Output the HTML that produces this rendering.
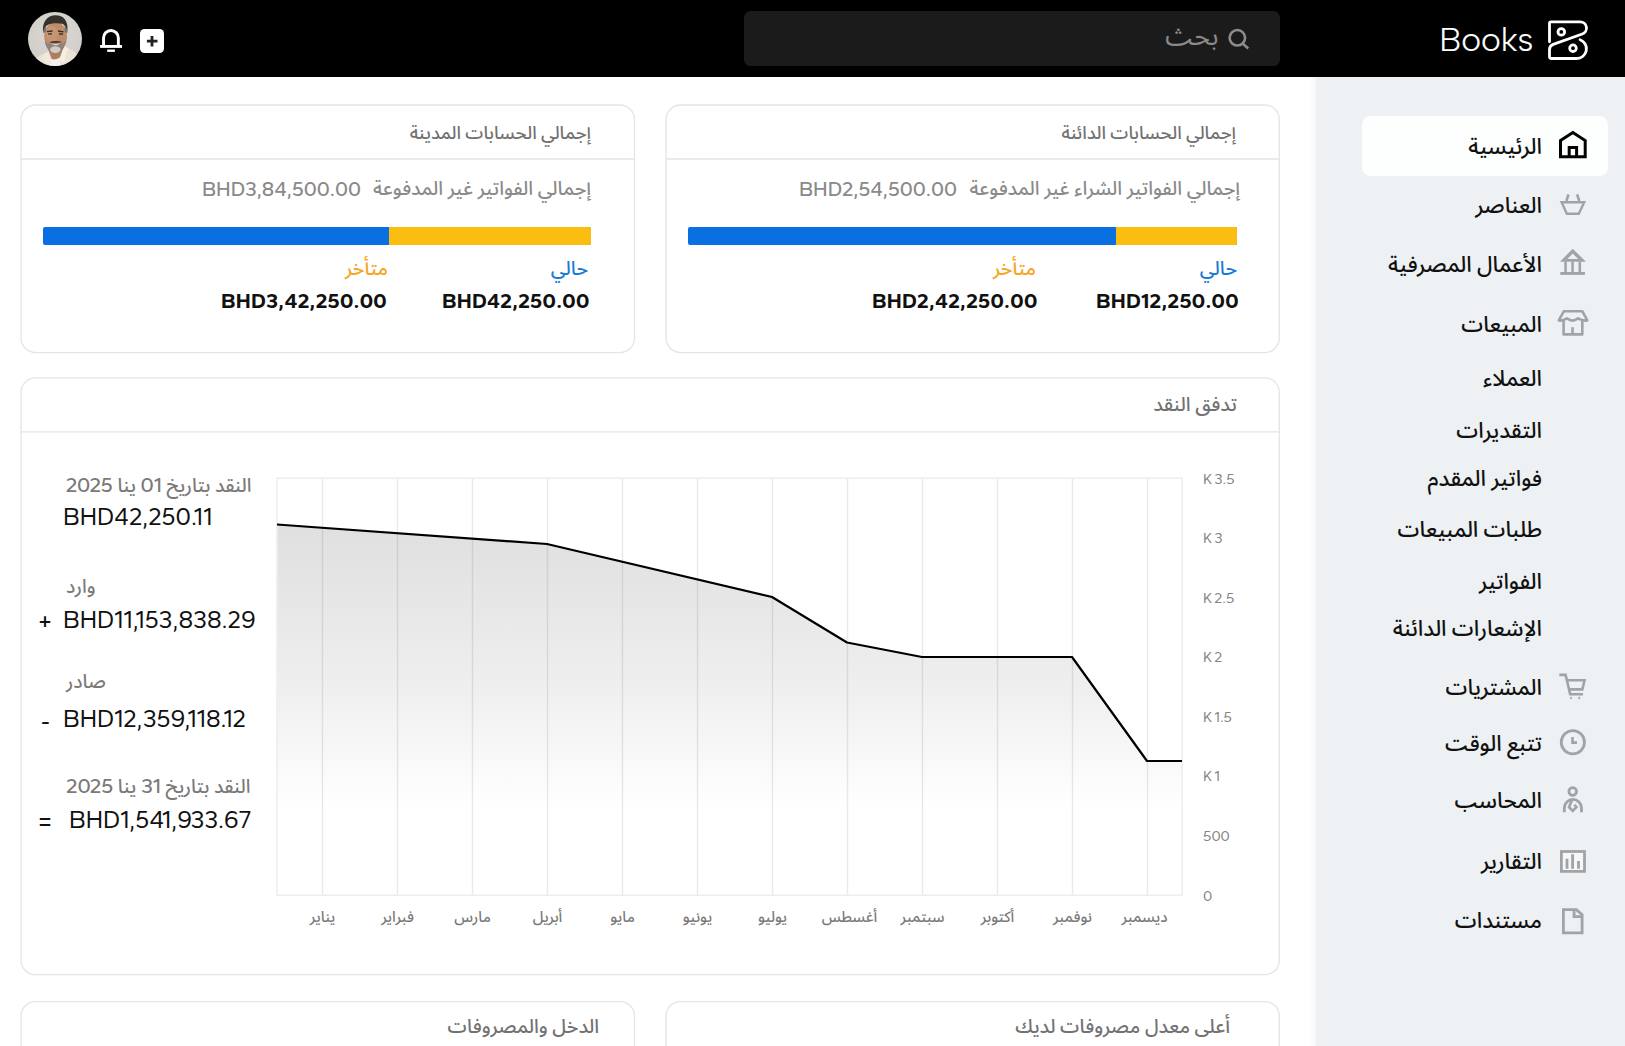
<!DOCTYPE html>
<html lang="ar" dir="rtl">
<head>
<meta charset="utf-8">
<title>Books</title>
<style>
*{box-sizing:border-box;margin:0;padding:0}
html,body{width:1625px;height:1046px;overflow:hidden;background:#fff}
body{font-family:"Gantari","Liberation Sans","Noto Sans Arabic","DejaVu Sans",sans-serif;font-weight:400;color:#111;position:relative;direction:rtl}
.abs{position:absolute;white-space:nowrap;line-height:1}
#top{position:absolute;left:0;top:0;width:1625px;height:77px;background:#000}
#search{position:absolute;left:743.8px;top:11.4px;width:536.3px;height:54.5px;background:#1b1b1b;border-radius:6.5px}
#side{position:absolute;left:1316px;top:77px;width:309px;height:969px;background:#eef1f4}
#active{position:absolute;left:1361.7px;top:116px;width:246.3px;height:60px;background:#fdfefe;border-radius:8.5px}
.nav{font-size:21.95px;font-weight:500;color:#111;right:83px}
.card{position:absolute;border:1.4px solid #ebebeb;border-radius:15px;background:#fff}
.hline{position:absolute;left:0;right:0;height:1.4px;background:#ebebeb}
.h{font-size:18.1px;font-weight:500;color:#727272}
.g{color:#8a8a8a}
.ltr{direction:ltr;unicode-bidi:isolate}
.lg{font-size:19.05px;font-weight:500;color:#7a7a7a}
.dg{font-size:20.6px;font-weight:500}
.lv{font-size:24px;font-weight:400;color:#111}
.ls{font-size:24px;font-weight:500;color:#111}
</style>
</head>
<body>
<div id="top"></div>
<div id="search"></div>
<div class="abs" style="left:1439.3px;top:23px;font-family:'Albert Sans','Gantari','Liberation Sans',sans-serif;font-size:33.7px;font-weight:300;-webkit-text-stroke:0.18px #fff;color:#fff;direction:ltr">Books</div>
<div class="abs" style="right:406.6px;top:22.5px;font-size:26.6px;font-weight:450;color:#8a8a8a">بحث</div>

<div id="side"></div>
<div style="position:absolute;left:1309px;top:77px;width:7px;height:969px;background:linear-gradient(to right,rgba(238,241,244,0),rgba(238,241,244,.55))"></div>
<div id="active"></div>

<!-- logo -->
<svg class="abs" style="left:1540px;top:10px" width="60" height="60" viewBox="0 0 60 60" fill="none" stroke="#fff" stroke-width="2.8" stroke-linecap="round" stroke-linejoin="round">
<path d="M9.5 31.8 L9.5 13.3 Q9.5 11.8 11 11.8 L40.2 11.8 A6.3 6.3 0 0 1 42.27 24.05 L13.2 34.4 Q9.5 35.7 9.5 39.5 L9.5 46.5 Q9.5 48.5 11.5 48.5 L36.7 48.5 A9.7 9.7 0 0 0 40.1 29.7"/>
<circle cx="21.3" cy="21.9" r="3.3"/><circle cx="33" cy="38.2" r="3.3"/>
</svg>
<!-- search icon -->
<svg class="abs" style="left:1220px;top:20px" width="36" height="36" viewBox="0 0 36 36" fill="none" stroke="#8c8c8c" stroke-width="2.6" stroke-linecap="butt">
<circle cx="17.35" cy="17.8" r="7.75"/><path d="M22.6 23.6 L28.2 28.4"/>
</svg>
<!-- plus button -->
<div class="abs" style="left:140px;top:28.5px;width:24px;height:24px;border-radius:4.5px;background:#fff"></div>
<svg class="abs" style="left:140px;top:28.5px" width="24" height="24" viewBox="0 0 24 24" stroke="#222" stroke-width="2.8" fill="none"><path d="M6.9 12.2 H17.5 M12 6.9 V17.5"/></svg>
<!-- bell -->
<svg class="abs" style="left:95px;top:22px" width="34" height="34" viewBox="0 0 34 34" fill="none" stroke="#fff" stroke-width="2.9">
<path d="M8.55 23.5 V15.85 A7.4 7.4 0 0 1 23.35 15.85 V23.5"/>
<path d="M5.1 24.45 H27" /><path d="M12.2 28.7 H19.9" stroke-width="2.4"/>
</svg>
<!-- avatar -->
<svg class="abs" style="left:28px;top:12px" width="54" height="54" viewBox="0 0 54 54">
<defs><clipPath id="avc"><circle cx="27" cy="27" r="27"/></clipPath><filter id="avb" x="-20%" y="-20%" width="140%" height="140%"><feGaussianBlur stdDeviation="0.75"/></filter>
<radialGradient id="avbg" cx="0.5" cy="0.4" r="0.7"><stop offset="0" stop-color="#dcd9d5"/><stop offset="1" stop-color="#cfcbc6"/></radialGradient></defs>
<g clip-path="url(#avc)">
<rect width="54" height="54" fill="url(#avbg)"/>
<g filter="url(#avb)">
<path d="M5 54 C6 47 10 44 19 40 L23 36 L36 33 L40 36 C47 39 51 43 52 54 Z" fill="#ece3d4"/>
<path d="M20 37 L24 48 L31 48 L36 35 L33 30 L21 31 Z" fill="#ad7f5f"/>
<path d="M21.5 46 Q26 49 32 45.5 L32 55 L21 55 Z" fill="#f3f1ee"/>
<path d="M19 40 L24 50 L21 54 L14 46 Z" fill="#f1eadd"/><path d="M36 34 L40 37 L36 50 L31 49 Z" fill="#f4eee3"/>
<ellipse cx="27.6" cy="24.5" rx="11.4" ry="14.6" fill="#bd8d6a"/>
<ellipse cx="24" cy="22" rx="6" ry="8" fill="#c99a76" opacity="0.7"/>
<path d="M15.2 21 C13.5 9 20 3.2 27.5 3.2 C35.5 3.2 41 8.5 39.2 21 C38.5 16 37 12.5 34 11.8 C30 10.8 24 11.2 20.5 12.6 C17.5 14 16 17 15.2 21 Z" fill="#34332f"/>
<path d="M15.2 21 C15.6 17.5 16.6 15 18 13.8 L18.2 20 Z" fill="#77736e"/><path d="M39.2 21 C38.9 17.5 38 14.8 36.6 13.2 L36.6 20 Z" fill="#77736e"/>
<path d="M19 19.6 L24.5 19 M30 19 L35.6 19.8" stroke="#3a2c24" stroke-width="1.3" fill="none"/>
<path d="M20 22 L24 21.8 M31 21.8 L35 22.2" stroke="#2e231d" stroke-width="1.2" fill="none"/>
<path d="M16.8 29 C18 37.5 22.5 41 27.5 41 C32.5 41 36.8 37 38.2 28.5 C36 31.5 33 32 27.5 32 C22.5 32 19.2 31.8 16.8 29 Z" fill="#8d847d"/>
<path d="M21.2 30.2 C24.5 28.6 30.5 28.6 33.8 30 C32 31.2 23 31.4 21.2 30.2 Z" fill="#4d3e37"/>
<path d="M22.8 31.4 Q27.5 33.4 32.4 31.2 Q27.5 35 22.8 31.4 Z" fill="#efe9e4"/>
<ellipse cx="27.3" cy="37.6" rx="5.2" ry="3.3" fill="#d2ccc6"/>
</g>
</g>
</svg>
<!-- nav icons -->
<svg class="abs" style="left:1550px;top:120px" width="50" height="50" viewBox="0 0 50 50" fill="none" stroke="#000" stroke-width="3" stroke-linejoin="miter">
<path d="M10.5 20.6 L22.85 12.6 L35.2 20.6 V36.8 H10.5 Z"/><path d="M19.2 36.8 V27.4 H26.6 V36.8"/>
</svg>
<svg class="abs" style="left:1550px;top:180px" width="50" height="50" viewBox="0 0 50 50" fill="none" stroke="#a0a4a6" stroke-width="2.4" stroke-linejoin="miter">
<path d="M11.6 22.2 H34.2 L28.8 33.7 H16.8 Z"/><path d="M16.4 21 L18.5 14.3 M29.3 21 L27.1 14.3" stroke-width="2.6"/>
</svg>
<svg class="abs" style="left:1550px;top:240px" width="50" height="50" viewBox="0 0 50 50" fill="#a0a4a6" stroke="none">
<path fill-rule="evenodd" d="M22.7 8.8 L35.9 21.7 H10 Z M22.7 13.6 L17.4 19.1 H28.2 Z"/>
<rect x="14.3" y="21.7" width="2.5" height="10.3"/><rect x="21.3" y="21.7" width="2.5" height="10.3"/><rect x="28.5" y="21.7" width="2.6" height="10.3"/>
<rect x="10.3" y="32" width="24.6" height="2.9"/>
</svg>
<svg class="abs" style="left:1550px;top:300px" width="50" height="50" viewBox="0 0 50 50" fill="none" stroke="#a0a4a6" stroke-width="2.6" stroke-linejoin="round">
<path d="M13.9 11.2 H32.3 L37.3 20.4 Q33 21.2 28 18.4 Q25 20.6 22.5 20.6 Q20 20.6 17 18.4 Q12 21.2 8.8 20.4 Z"/>
<path d="M13.6 21 V34.4 H32.3 V21"/><path d="M22.5 27.2 V34.4"/>
</svg>
<svg class="abs" style="left:1550px;top:662px" width="50" height="50" viewBox="0 0 50 50" fill="none" stroke="#a0a4a6" stroke-width="2.6" stroke-linejoin="miter">
<path d="M9.3 12.9 H15.6 L20.2 32.2 H33"/><path d="M17 18.3 H34.6 L32.3 27.4 H19.3"/>
<circle cx="21" cy="36" r="0.8" fill="#a0a4a6" stroke-width="0.8"/><circle cx="29.2" cy="36" r="0.8" fill="#a0a4a6" stroke-width="0.8"/>
</svg>
<svg class="abs" style="left:1550px;top:718px" width="50" height="50" viewBox="0 0 50 50" fill="none" stroke="#a0a4a6" stroke-width="2.8">
<circle cx="22.85" cy="24.2" r="11.6"/><path d="M22.5 19.1 V24.6 H27" stroke-width="2.6"/>
</svg>
<svg class="abs" style="left:1550px;top:776px" width="50" height="50" viewBox="0 0 50 50" fill="none" stroke="#a0a4a6" stroke-width="2.8" stroke-linejoin="miter">
<circle cx="22.7" cy="15.5" r="3.8"/><path d="M14.3 36.3 V32 A8.6 8.6 0 0 1 31.5 32 V36.3"/>
<path d="M22 24 L19 31.2 L22.7 35 L26.4 31.2 L24.5 28.8" stroke-width="2.6"/>
</svg>
<svg class="abs" style="left:1550px;top:836px" width="50" height="50" viewBox="0 0 50 50" fill="none" stroke="#a0a4a6" stroke-width="2.8">
<rect x="11.4" y="15.5" width="23.1" height="19.9" fill="#f5f7f8"/>
<path d="M17 22.7 V32.7 M22.6 18.2 V32.7 M28.5 25.1 V32.7" stroke-width="2.8"/>
</svg>
<svg class="abs" style="left:1550px;top:896px" width="50" height="50" viewBox="0 0 50 50" fill="none" stroke="#a0a4a6" stroke-width="2.8" stroke-linejoin="miter">
<path d="M13.4 13.6 H26.3 L32.1 18.6 V36.8 H13.4 Z"/><path d="M24.1 13.6 V20.6 H32.1"/>
</svg>

<div class="abs nav" style="top:136px">الرئيسية</div>
<div class="abs nav" style="top:195px">العناصر</div>
<div class="abs nav" style="top:254px">الأعمال المصرفية</div>
<div class="abs nav" style="top:314px">المبيعات</div>
<div class="abs nav" style="top:368px">العملاء</div>
<div class="abs nav" style="top:420px">التقديرات</div>
<div class="abs nav" style="top:468px">فواتير المقدم</div>
<div class="abs nav" style="top:519px">طلبات المبيعات</div>
<div class="abs nav" style="top:571px">الفواتير</div>
<div class="abs nav" style="top:618px">الإشعارات الدائنة</div>
<div class="abs nav" style="top:677px">المشتريات</div>
<div class="abs nav" style="top:733px">تتبع الوقت</div>
<div class="abs nav" style="top:790px">المحاسب</div>
<div class="abs nav" style="top:851px">التقارير</div>
<div class="abs nav" style="top:910px">مستندات</div>

<!-- cards -->
<svg class="abs" style="left:0;top:77px" width="1316" height="969" viewBox="0 77 1316 969" fill="#fff" stroke="#e5e5e5" stroke-width="1.35">
<rect x="666.1" y="104.95" width="613.2" height="247.6" rx="14.5"/>
<rect x="21.05" y="104.95" width="613.45" height="247.6" rx="14.5"/>
<rect x="21.05" y="377.9" width="1258.25" height="596.75" rx="14.5"/>
<rect x="666.1" y="1001.6" width="613.2" height="200" rx="14.5"/>
<rect x="21.05" y="1001.6" width="613.45" height="200" rx="14.5"/>
<path d="M666.1 158.95 H1279.3 M21.05 158.95 H634.5 M21.05 431.9 H1279.3" fill="none"/>
</svg>
<!-- card: payables -->
<div class="abs h" style="right:389px;top:124px">إجمالي الحسابات الدائنة</div>
<div class="abs g" style="right:385px;top:179px;font-size:19.3px;font-weight:500">إجمالي الفواتير الشراء غير المدفوعة</div>
<div class="abs g ltr" style="left:799px;top:179px;font-size:20.25px;font-weight:500">BHD2,54,500.00</div>
<div class="abs" style="left:688px;top:227px;width:549px;height:18px;background:#0a6fe0;border-radius:2px;overflow:hidden"><div style="position:absolute;right:0;top:0;height:18px;width:121px;background:#fcbd11"></div></div>
<div class="abs" style="right:388px;top:259px;font-size:19.3px;font-weight:500;color:#1a7bd6">حالي</div>
<div class="abs" style="right:589px;top:259px;font-size:19.3px;font-weight:500;color:#f5a623">متأخر</div>
<div class="abs ltr" style="left:1096px;top:291px;font-size:20.8px;font-weight:700;letter-spacing:0.3px">BHD12,250.00</div>
<div class="abs ltr" style="left:872px;top:291px;font-size:20.8px;font-weight:700;letter-spacing:0.3px">BHD2,42,250.00</div>

<!-- card: receivables -->
<div class="abs h" style="right:1034px;top:124px">إجمالي الحسابات المدينة</div>
<div class="abs g" style="right:1034px;top:179px;font-size:19.3px;font-weight:500">إجمالي الفواتير غير المدفوعة</div>
<div class="abs g ltr" style="left:202px;top:179px;font-size:20.25px;font-weight:500">BHD3,84,500.00</div>
<div class="abs" style="left:43px;top:227px;width:548px;height:18px;background:#0a6fe0;border-radius:2px;overflow:hidden"><div style="position:absolute;right:0;top:0;height:18px;width:202px;background:#fcbd11"></div></div>
<div class="abs" style="right:1037px;top:259px;font-size:19.3px;font-weight:500;color:#1a7bd6">حالي</div>
<div class="abs" style="right:1237px;top:259px;font-size:19.3px;font-weight:500;color:#f5a623">متأخر</div>
<div class="abs ltr" style="left:442px;top:291px;font-size:20.8px;font-weight:700;letter-spacing:0.3px">BHD42,250.00</div>
<div class="abs ltr" style="left:221px;top:291px;font-size:20.8px;font-weight:700;letter-spacing:0.3px">BHD3,42,250.00</div>

<!-- card: cash flow -->
<div class="abs h" style="right:388px;top:395px;font-size:19.45px">تدفق النقد</div>


<!-- chart -->
<svg class="abs" style="left:21px;top:432px" width="1259" height="542" viewBox="21 432 1259 542">
<defs><linearGradient id="ag" x1="0" y1="0" x2="0" y2="1" gradientUnits="userSpaceOnUse" >
<stop offset="0" stop-color="#000" stop-opacity="0.13"/><stop offset="1" stop-color="#000" stop-opacity="0"/></linearGradient>
<linearGradient id="ag2" gradientUnits="userSpaceOnUse" x1="0" y1="520" x2="0" y2="808"><stop offset="0" stop-color="#dfdfdf"/><stop offset="0.59" stop-color="#efefef"/><stop offset="1" stop-color="#ffffff"/></linearGradient></defs>
<path d="M277 524.5 L547 544 L772 597 L847 642.5 L922 657 L1072 657 L1147 761 L1182 761 L1182 895 L277 895 Z" fill="url(#ag2)"/>
<g stroke="#000" stroke-opacity="0.085" stroke-width="1.4">
<path d="M322.5 478 V895 M397.5 478 V895 M472.5 478 V895 M547.5 478 V895 M622.5 478 V895 M697.5 478 V895 M772.5 478 V895 M847.5 478 V895 M922.5 478 V895 M997.5 478 V895 M1072.5 478 V895 M1147.5 478 V895"/>
</g>
<rect x="277" y="478.2" width="905.2" height="417" fill="none" stroke="#eeeeee" stroke-width="1.6"/>
<path d="M277 524.5 L547 544 L772 597 L847 642.5 L922 657 L1072 657 L1147 761 L1182 761" fill="none" stroke="#000" stroke-width="2.2" stroke-linejoin="round"/>
<g font-family="Gantari, 'Liberation Sans', sans-serif" font-weight="450" font-size="14.4" fill="#848484" direction="ltr" word-spacing="-1.3">
<text x="1203" y="483.5">K 3.5</text><text x="1203" y="543.1">K 3</text><text x="1203" y="602.7">K 2.5</text><text x="1203" y="662.2">K 2</text><text x="1203" y="721.8">K 1.5</text><text x="1203" y="781.4">K 1</text><text x="1203" y="840.9">500</text><text x="1203" y="901.3">0</text>
</g>
<g font-family="Gantari, 'Liberation Sans', 'Noto Sans Arabic', 'DejaVu Sans', sans-serif" font-weight="500" font-size="15" fill="#7a7a7a" text-anchor="middle">
<text x="322.5" y="922">يناير</text><text x="397.5" y="922">فبراير</text><text x="472.5" y="922">مارس</text><text x="547.5" y="922">أبريل</text><text x="622.5" y="922">مايو</text><text x="697.5" y="922">يونيو</text><text x="772.5" y="922">يوليو</text><text x="849.5" y="922">أغسطس</text><text x="922.5" y="922">سبتمبر</text><text x="997.5" y="922">أكتوبر</text><text x="1072.5" y="922">نوفمبر</text><text x="1144.5" y="922">ديسمبر</text>
</g>
</svg>
<!-- legend -->
<div class="abs lg" style="right:1373.5px;top:475px">النقد بتاريخ <span class="dg">01</span> ينا <span class="dg">2025</span></div>
<div class="abs lv ltr" style="left:63px;top:505px">BHD42,250.11</div>
<div class="abs lg" style="left:66px;top:577px">وارد</div>
<div class="abs lv ltr" style="left:63px;top:608px">BHD11,153,838.29</div>
<div class="abs ls ltr" style="left:38px;top:610px">+</div>
<div class="abs lg" style="left:66px;top:672px">صادر</div>
<div class="abs lv ltr" style="left:63px;top:707px">BHD12,359,118.12</div>
<div class="abs ls ltr" style="left:41px;top:710px">-</div>
<div class="abs lg" style="right:1374.5px;top:776px">النقد بتاريخ <span class="dg">31</span> ينا <span class="dg">2025</span></div>
<div class="abs lv ltr" style="left:69px;top:808px">BHD1,541,933.67</div>
<div class="abs ls ltr" style="left:38px;top:810px">=</div>

<!-- bottom cards -->
<div class="abs h" style="right:395px;top:1017px;font-size:19.35px">أعلى معدل مصروفات لديك</div>
<div class="abs h" style="right:1026px;top:1017px;font-size:19.35px">الدخل والمصروفات</div>
</body>
</html>
